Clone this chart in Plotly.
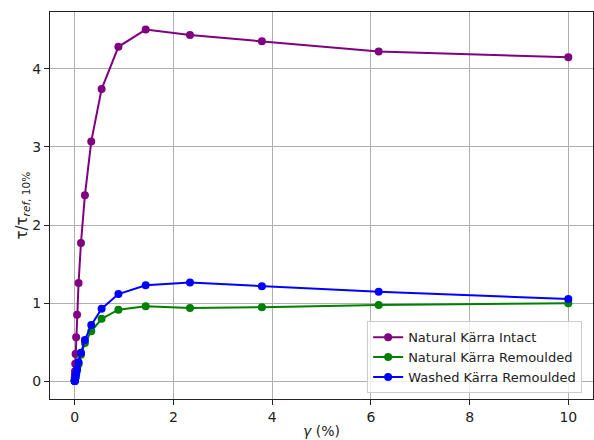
import plotly.graph_objects as go

gamma = [0.001, 0.00162, 0.00264, 0.00428, 0.00695, 0.01129, 0.01833, 0.02976,
         0.04833, 0.07848, 0.12743, 0.20691, 0.33598, 0.54556, 0.88587, 1.43845,
         2.33572, 3.79269, 6.15848, 10.0]

intact = [0.019, 0.031, 0.05, 0.082, 0.13, 0.225, 0.352, 0.565, 0.853, 1.26,
          1.77, 2.38, 3.07, 3.74, 4.28, 4.50, 4.43, 4.35, 4.22, 4.145]

nat_remoulded = [0.004, 0.006, 0.009, 0.014, 0.022, 0.035, 0.055, 0.09, 0.14, 0.22,
                 0.34, 0.49, 0.64, 0.80, 0.917, 0.96, 0.94, 0.95, 0.977, 1.0]

washed_remoulded = [0.004, 0.006, 0.009, 0.015, 0.024, 0.038, 0.062, 0.10, 0.16, 0.246,
                    0.365, 0.53, 0.72, 0.93, 1.117, 1.23, 1.265, 1.218, 1.146, 1.053]

series_names = ["Natural Kärra Intact", "Natural Kärra Remoulded", "Washed Kärra Remoulded"]
series_colors = ["purple", "green", "blue"]
x_ticks = [0, 2, 4, 6, 8, 10]
y_ticks = [0, 1, 2, 3, 4]

fig = go.Figure()
for name, vals, col in zip(series_names, [intact, nat_remoulded, washed_remoulded], series_colors):
    fig.add_trace(go.Scatter(
        x=gamma, y=vals, name=name, mode="lines+markers",
        line=dict(color=col, width=2),
        marker=dict(color=col, size=8),
    ))

font = "DejaVu Sans"
axis_common = dict(
    showline=True, linecolor="#222", linewidth=1, mirror=True,
    showgrid=True, gridcolor="#b0b0b0", gridwidth=1,
    ticks="outside", ticklen=5, tickcolor="#222", tickwidth=1,
    tickfont=dict(family=font, size=14, color="#222"),
    zeroline=False, automargin=False,
)

fig.update_layout(
    width=594, height=440,
    margin=dict(l=50, r=1, t=12, b=41),
    paper_bgcolor="white", plot_bgcolor="white",
    font=dict(family=font, size=14, color="#222"),
    xaxis=dict(range=[-0.5, 10.5], tickvals=x_ticks, **axis_common),
    yaxis=dict(range=[-0.225, 4.725], tickvals=y_ticks, **axis_common),
    legend=dict(x=0.98, y=0.015, xanchor="right", yanchor="bottom",
                bgcolor="rgba(255,255,255,0.8)", bordercolor="#ccc", borderwidth=1,
                font=dict(family=font, size=13, color="#222"),
                itemwidth=30, tracegroupgap=0),
    showlegend=True,
    annotations=[
        dict(text="<i>γ</i> (%)", xref="paper", yref="paper", x=0.5, y=0,
             xanchor="center", yanchor="top", yshift=-22, showarrow=False,
             font=dict(family=font, size=14, color="#222")),
        dict(text="τ/τ<sub><i>ref</i>, 10%</sub>", xref="paper", yref="paper", x=0, y=0.5,
             xanchor="center", yanchor="middle", xshift=-28, textangle=-90, showarrow=False,
             font=dict(family=font, size=15, color="#222")),
    ],
)

fig.write_html("out.html",
               config={"displayModeBar": False},
               post_script="document.body.style.margin='0';document.body.style.overflow='hidden';")
